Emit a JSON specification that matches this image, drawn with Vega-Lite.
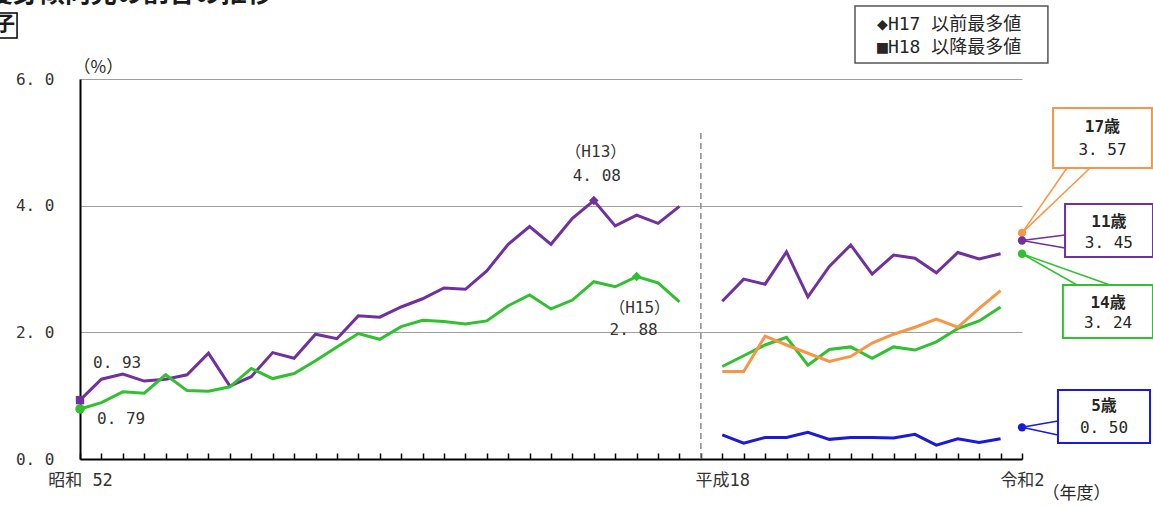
{
  "$schema": "https://vega.github.io/schema/vega-lite/v6.json",
  "width": 942,
  "height": 380,
  "autosize": {"type": "none"},
  "padding": {"left": 80, "top": 79, "right": 131, "bottom": 48},
  "background": "white",
  "config": {
    "view": {"stroke": null},
    "font": "DejaVu Sans Mono, Noto Sans CJK JP",
    "text": {"font": "DejaVu Sans Mono, Noto Sans CJK JP", "color": "#262626"},
    "axis": {"labelFont": "DejaVu Sans Mono, Noto Sans CJK JP"}
  },
  "datasets": {
    "series": [
      {"nendo": "S52", "age": "11歳", "period": "H17以前", "value": 0.93},
      {"nendo": "S53", "age": "11歳", "period": "H17以前", "value": 1.26},
      {"nendo": "S54", "age": "11歳", "period": "H17以前", "value": 1.34},
      {"nendo": "S55", "age": "11歳", "period": "H17以前", "value": 1.23},
      {"nendo": "S56", "age": "11歳", "period": "H17以前", "value": 1.26},
      {"nendo": "S57", "age": "11歳", "period": "H17以前", "value": 1.33},
      {"nendo": "S58", "age": "11歳", "period": "H17以前", "value": 1.67},
      {"nendo": "S59", "age": "11歳", "period": "H17以前", "value": 1.15},
      {"nendo": "S60", "age": "11歳", "period": "H17以前", "value": 1.30},
      {"nendo": "S61", "age": "11歳", "period": "H17以前", "value": 1.68},
      {"nendo": "S62", "age": "11歳", "period": "H17以前", "value": 1.59},
      {"nendo": "S63", "age": "11歳", "period": "H17以前", "value": 1.97},
      {"nendo": "H1", "age": "11歳", "period": "H17以前", "value": 1.90},
      {"nendo": "H2", "age": "11歳", "period": "H17以前", "value": 2.26},
      {"nendo": "H3", "age": "11歳", "period": "H17以前", "value": 2.24},
      {"nendo": "H4", "age": "11歳", "period": "H17以前", "value": 2.40},
      {"nendo": "H5", "age": "11歳", "period": "H17以前", "value": 2.53},
      {"nendo": "H6", "age": "11歳", "period": "H17以前", "value": 2.70},
      {"nendo": "H7", "age": "11歳", "period": "H17以前", "value": 2.68},
      {"nendo": "H8", "age": "11歳", "period": "H17以前", "value": 2.97},
      {"nendo": "H9", "age": "11歳", "period": "H17以前", "value": 3.39},
      {"nendo": "H10", "age": "11歳", "period": "H17以前", "value": 3.67},
      {"nendo": "H11", "age": "11歳", "period": "H17以前", "value": 3.39},
      {"nendo": "H12", "age": "11歳", "period": "H17以前", "value": 3.80},
      {"nendo": "H13", "age": "11歳", "period": "H17以前", "value": 4.08},
      {"nendo": "H14", "age": "11歳", "period": "H17以前", "value": 3.68},
      {"nendo": "H15", "age": "11歳", "period": "H17以前", "value": 3.85},
      {"nendo": "H16", "age": "11歳", "period": "H17以前", "value": 3.72},
      {"nendo": "H17", "age": "11歳", "period": "H17以前", "value": 3.99},
      {"nendo": "S52", "age": "14歳", "period": "H17以前", "value": 0.79},
      {"nendo": "S53", "age": "14歳", "period": "H17以前", "value": 0.89},
      {"nendo": "S54", "age": "14歳", "period": "H17以前", "value": 1.06},
      {"nendo": "S55", "age": "14歳", "period": "H17以前", "value": 1.04},
      {"nendo": "S56", "age": "14歳", "period": "H17以前", "value": 1.33},
      {"nendo": "S57", "age": "14歳", "period": "H17以前", "value": 1.08},
      {"nendo": "S58", "age": "14歳", "period": "H17以前", "value": 1.07},
      {"nendo": "S59", "age": "14歳", "period": "H17以前", "value": 1.14},
      {"nendo": "S60", "age": "14歳", "period": "H17以前", "value": 1.43},
      {"nendo": "S61", "age": "14歳", "period": "H17以前", "value": 1.27},
      {"nendo": "S62", "age": "14歳", "period": "H17以前", "value": 1.35},
      {"nendo": "S63", "age": "14歳", "period": "H17以前", "value": 1.55},
      {"nendo": "H1", "age": "14歳", "period": "H17以前", "value": 1.77},
      {"nendo": "H2", "age": "14歳", "period": "H17以前", "value": 1.98},
      {"nendo": "H3", "age": "14歳", "period": "H17以前", "value": 1.89},
      {"nendo": "H4", "age": "14歳", "period": "H17以前", "value": 2.09},
      {"nendo": "H5", "age": "14歳", "period": "H17以前", "value": 2.19},
      {"nendo": "H6", "age": "14歳", "period": "H17以前", "value": 2.17},
      {"nendo": "H7", "age": "14歳", "period": "H17以前", "value": 2.13},
      {"nendo": "H8", "age": "14歳", "period": "H17以前", "value": 2.18},
      {"nendo": "H9", "age": "14歳", "period": "H17以前", "value": 2.42},
      {"nendo": "H10", "age": "14歳", "period": "H17以前", "value": 2.59},
      {"nendo": "H11", "age": "14歳", "period": "H17以前", "value": 2.37},
      {"nendo": "H12", "age": "14歳", "period": "H17以前", "value": 2.51},
      {"nendo": "H13", "age": "14歳", "period": "H17以前", "value": 2.80},
      {"nendo": "H14", "age": "14歳", "period": "H17以前", "value": 2.72},
      {"nendo": "H15", "age": "14歳", "period": "H17以前", "value": 2.88},
      {"nendo": "H16", "age": "14歳", "period": "H17以前", "value": 2.78},
      {"nendo": "H17", "age": "14歳", "period": "H17以前", "value": 2.48},
      {"nendo": "H18", "age": "5歳", "period": "H18以降", "value": 0.38},
      {"nendo": "H19", "age": "5歳", "period": "H18以降", "value": 0.25},
      {"nendo": "H20", "age": "5歳", "period": "H18以降", "value": 0.34},
      {"nendo": "H21", "age": "5歳", "period": "H18以降", "value": 0.34},
      {"nendo": "H22", "age": "5歳", "period": "H18以降", "value": 0.42},
      {"nendo": "H23", "age": "5歳", "period": "H18以降", "value": 0.31},
      {"nendo": "H24", "age": "5歳", "period": "H18以降", "value": 0.34},
      {"nendo": "H25", "age": "5歳", "period": "H18以降", "value": 0.34},
      {"nendo": "H26", "age": "5歳", "period": "H18以降", "value": 0.33},
      {"nendo": "H27", "age": "5歳", "period": "H18以降", "value": 0.39},
      {"nendo": "H28", "age": "5歳", "period": "H18以降", "value": 0.22},
      {"nendo": "H29", "age": "5歳", "period": "H18以降", "value": 0.32},
      {"nendo": "H30", "age": "5歳", "period": "H18以降", "value": 0.26},
      {"nendo": "R1", "age": "5歳", "period": "H18以降", "value": 0.32},
      {"nendo": "H18", "age": "11歳", "period": "H18以降", "value": 2.49},
      {"nendo": "H19", "age": "11歳", "period": "H18以降", "value": 2.84},
      {"nendo": "H20", "age": "11歳", "period": "H18以降", "value": 2.76},
      {"nendo": "H21", "age": "11歳", "period": "H18以降", "value": 3.27},
      {"nendo": "H22", "age": "11歳", "period": "H18以降", "value": 2.56},
      {"nendo": "H23", "age": "11歳", "period": "H18以降", "value": 3.04},
      {"nendo": "H24", "age": "11歳", "period": "H18以降", "value": 3.38},
      {"nendo": "H25", "age": "11歳", "period": "H18以降", "value": 2.92},
      {"nendo": "H26", "age": "11歳", "period": "H18以降", "value": 3.22},
      {"nendo": "H27", "age": "11歳", "period": "H18以降", "value": 3.17},
      {"nendo": "H28", "age": "11歳", "period": "H18以降", "value": 2.94},
      {"nendo": "H29", "age": "11歳", "period": "H18以降", "value": 3.26},
      {"nendo": "H30", "age": "11歳", "period": "H18以降", "value": 3.16},
      {"nendo": "R1", "age": "11歳", "period": "H18以降", "value": 3.24},
      {"nendo": "H18", "age": "14歳", "period": "H18以降", "value": 1.46},
      {"nendo": "H19", "age": "14歳", "period": "H18以降", "value": 1.63},
      {"nendo": "H20", "age": "14歳", "period": "H18以降", "value": 1.80},
      {"nendo": "H21", "age": "14歳", "period": "H18以降", "value": 1.92},
      {"nendo": "H22", "age": "14歳", "period": "H18以降", "value": 1.48},
      {"nendo": "H23", "age": "14歳", "period": "H18以降", "value": 1.73},
      {"nendo": "H24", "age": "14歳", "period": "H18以降", "value": 1.77},
      {"nendo": "H25", "age": "14歳", "period": "H18以降", "value": 1.59},
      {"nendo": "H26", "age": "14歳", "period": "H18以降", "value": 1.77},
      {"nendo": "H27", "age": "14歳", "period": "H18以降", "value": 1.72},
      {"nendo": "H28", "age": "14歳", "period": "H18以降", "value": 1.85},
      {"nendo": "H29", "age": "14歳", "period": "H18以降", "value": 2.06},
      {"nendo": "H30", "age": "14歳", "period": "H18以降", "value": 2.18},
      {"nendo": "R1", "age": "14歳", "period": "H18以降", "value": 2.40},
      {"nendo": "H18", "age": "17歳", "period": "H18以降", "value": 1.38},
      {"nendo": "H19", "age": "17歳", "period": "H18以降", "value": 1.38},
      {"nendo": "H20", "age": "17歳", "period": "H18以降", "value": 1.94},
      {"nendo": "H21", "age": "17歳", "period": "H18以降", "value": 1.80},
      {"nendo": "H22", "age": "17歳", "period": "H18以降", "value": 1.67},
      {"nendo": "H23", "age": "17歳", "period": "H18以降", "value": 1.54},
      {"nendo": "H24", "age": "17歳", "period": "H18以降", "value": 1.62},
      {"nendo": "H25", "age": "17歳", "period": "H18以降", "value": 1.83},
      {"nendo": "H26", "age": "17歳", "period": "H18以降", "value": 1.97},
      {"nendo": "H27", "age": "17歳", "period": "H18以降", "value": 2.08},
      {"nendo": "H28", "age": "17歳", "period": "H18以降", "value": 2.21},
      {"nendo": "H29", "age": "17歳", "period": "H18以降", "value": 2.08},
      {"nendo": "H30", "age": "17歳", "period": "H18以降", "value": 2.38},
      {"nendo": "R1", "age": "17歳", "period": "H18以降", "value": 2.66}
    ],
    "r2": [
      {"nendo": "R2", "age": "17歳", "value": 3.57},
      {"nendo": "R2", "age": "11歳", "value": 3.45},
      {"nendo": "R2", "age": "14歳", "value": 3.24},
      {"nendo": "R2", "age": "5歳", "value": 0.50}
    ]
  },
  "resolve": {"scale": {"x": "independent", "y": "independent"}},
  "layer": [
    {
      "data": {"name": "series"},
      "encoding": {
        "x": {
          "field": "nendo",
          "type": "ordinal",
          "scale": {
            "type": "point",
            "padding": 0,
            "domain": ["S52", "S53", "S54", "S55", "S56", "S57", "S58", "S59", "S60", "S61", "S62", "S63", "H1", "H2", "H3", "H4", "H5", "H6", "H7", "H8", "H9", "H10", "H11", "H12", "H13", "H14", "H15", "H16", "H17", " ", "H18", "H19", "H20", "H21", "H22", "H23", "H24", "H25", "H26", "H27", "H28", "H29", "H30", "R1", "R2"]
          },
          "axis": {
            "title": null,
            "grid": false,
            "domainColor": "#000000",
            "domainWidth": 2,
            "tickColor": "#000000",
            "tickWidth": 1.5,
            "tickSize": -6,
            "labelAngle": 0,
            "labelFontSize": 17,
            "labelColor": "#333333",
            "labelPadding": 19,
            "labelOverlap": false,
            "labelExpr": "datum.value == 'S52' ? '昭和 52' : datum.value == 'H18' ? '平成18' : datum.value == 'R2' ? '令和2' : ''"
          }
        },
        "y": {
          "field": "value",
          "type": "quantitative",
          "scale": {"domain": [0, 6], "nice": false, "zero": false},
          "axis": {
            "title": null,
            "orient": "left",
            "values": [0, 2, 4, 6],
            "grid": true,
            "gridColor": "#a0a0a0",
            "gridWidth": 1,
            "domain": true,
            "domainColor": "#000000",
            "domainWidth": 2,
            "ticks": false,
            "labelFontSize": 16,
            "labelColor": "#333333",
            "labelPadding": 26,
            "labelExpr": "replace(format(datum.value, '.1f'), '.', '. ')"
          }
        },
        "color": {
          "field": "age",
          "type": "nominal",
          "scale": {"domain": ["5歳", "11歳", "14歳", "17歳"], "range": ["#1a1ad8", "#7030a0", "#30c030", "#f79646"]},
          "legend": null
        }
      },
      "layer": [
        {
          "mark": {"type": "line", "strokeWidth": 3},
          "encoding": {"detail": {"field": "period"}, "order": {"value": null}}
        },
        {
          "transform": [{"filter": "datum.nendo == 'S52' && datum.age == '11歳'"}],
          "mark": {"type": "point", "shape": "square", "filled": true, "opacity": 1, "size": 70}
        },
        {
          "transform": [{"filter": "datum.nendo == 'S52' && datum.age == '14歳'"}],
          "mark": {"type": "circle", "opacity": 1, "size": 90}
        },
        {
          "transform": [{"filter": "(datum.nendo == 'H13' && datum.age == '11歳') || (datum.nendo == 'H15' && datum.age == '14歳')"}],
          "mark": {"type": "point", "shape": "diamond", "filled": true, "opacity": 1, "size": 90}
        },
        {
          "transform": [
            {"filter": "datum.nendo == 'S52' && datum.age == '11歳'"},
            {"calculate": "replace(format(datum.value, '.2f'), '.', '. ')", "as": "label"}
          ],
          "mark": {"type": "text", "align": "left", "baseline": "middle", "dx": 13, "dy": -37, "fontSize": 16},
          "encoding": {"text": {"field": "label"}, "color": {"value": "#333333"}}
        },
        {
          "transform": [
            {"filter": "datum.nendo == 'S52' && datum.age == '14歳'"},
            {"calculate": "replace(format(datum.value, '.2f'), '.', '. ')", "as": "label"}
          ],
          "mark": {"type": "text", "align": "left", "baseline": "middle", "dx": 17, "dy": 10, "fontSize": 16},
          "encoding": {"text": {"field": "label"}, "color": {"value": "#333333"}}
        },
        {
          "transform": [{"filter": "datum.nendo == 'H13' && datum.age == '11歳'"}],
          "mark": {"type": "text", "align": "center", "baseline": "middle", "dx": 2, "dy": -49, "fontSize": 16},
          "encoding": {"text": {"value": "（H13）"}, "color": {"value": "#333333"}}
        },
        {
          "transform": [
            {"filter": "datum.nendo == 'H13' && datum.age == '11歳'"},
            {"calculate": "replace(format(datum.value, '.2f'), '.', '. ')", "as": "label"}
          ],
          "mark": {"type": "text", "align": "center", "baseline": "middle", "dx": 3, "dy": -25, "fontSize": 16},
          "encoding": {"text": {"field": "label"}, "color": {"value": "#333333"}}
        },
        {
          "transform": [{"filter": "datum.nendo == 'H15' && datum.age == '14歳'"}],
          "mark": {"type": "text", "align": "center", "baseline": "middle", "dx": 3, "dy": 31, "fontSize": 16},
          "encoding": {"text": {"value": "（H15）"}, "color": {"value": "#333333"}}
        },
        {
          "transform": [
            {"filter": "datum.nendo == 'H15' && datum.age == '14歳'"},
            {"calculate": "replace(format(datum.value, '.2f'), '.', '. ')", "as": "label"}
          ],
          "mark": {"type": "text", "align": "center", "baseline": "middle", "dx": -3, "dy": 53, "fontSize": 16},
          "encoding": {"text": {"field": "label"}, "color": {"value": "#333333"}}
        }
      ]
    },
    {
      "data": {"values": [{}]},
      "layer": [
        {
          "mark": {"type": "rule", "strokeDash": [6, 4], "strokeWidth": 1.5, "color": "#8c8c8c"},
          "encoding": {
            "x": {"datum": 29, "type": "quantitative", "scale": {"domain": [0, 44], "nice": false, "zero": false}, "axis": null},
            "x2": {"datum": 29},
            "y": {"datum": 0, "type": "quantitative", "scale": {"domain": [0, 6], "nice": false, "zero": false}, "axis": null},
            "y2": {"datum": 5.195}
          }
        },
        {
          "mark": {"type": "text", "align": "left", "baseline": "alphabetic", "fontSize": 26, "fontWeight": "bold", "font": "Noto Sans CJK JP", "color": "#1a1a1a"},
          "encoding": {
            "x": {"datum": -4.35, "type": "quantitative", "scale": {"domain": [0, 44], "nice": false, "zero": false}, "axis": null},
            "y": {"datum": 7.22, "type": "quantitative", "scale": {"domain": [0, 6], "nice": false, "zero": false}, "axis": null},
            "text": {"value": "痩身傾向児の割合の推移"}
          }
        },
        {
          "mark": {"type": "rect", "fill": null, "stroke": "#000000", "strokeWidth": 1.5},
          "encoding": {
            "x": {"datum": -5.28, "type": "quantitative", "scale": {"domain": [0, 44], "nice": false, "zero": false}, "axis": null},
            "x2": {"datum": -2.94},
            "y": {"datum": 7.042, "type": "quantitative", "scale": {"domain": [0, 6], "nice": false, "zero": false}, "axis": null},
            "y2": {"datum": 6.647}
          }
        },
        {
          "mark": {"type": "text", "align": "right", "baseline": "middle", "fontSize": 20, "fontWeight": "bold", "font": "Noto Sans CJK JP", "color": "#1a1a1a"},
          "encoding": {
            "x": {"datum": -3.04, "type": "quantitative", "scale": {"domain": [0, 44], "nice": false, "zero": false}, "axis": null},
            "y": {"datum": 6.853, "type": "quantitative", "scale": {"domain": [0, 6], "nice": false, "zero": false}, "axis": null},
            "text": {"value": "男子"}
          }
        },
        {
          "mark": {"type": "text", "align": "left", "baseline": "middle", "fontSize": 17, "font": "Noto Sans CJK JP"},
          "encoding": {
            "x": {"datum": -0.3, "type": "quantitative", "scale": {"domain": [0, 44], "nice": false, "zero": false}, "axis": null},
            "y": {"datum": 6.174, "type": "quantitative", "scale": {"domain": [0, 6], "nice": false, "zero": false}, "axis": null},
            "text": {"value": "（%）"}
          }
        },
        {
          "mark": {"type": "text", "align": "center", "baseline": "middle", "fontSize": 17, "font": "Noto Sans CJK JP"},
          "encoding": {
            "x": {"datum": 46.55, "type": "quantitative", "scale": {"domain": [0, 44], "nice": false, "zero": false}, "axis": null},
            "y": {"datum": -0.56, "type": "quantitative", "scale": {"domain": [0, 6], "nice": false, "zero": false}, "axis": null},
            "text": {"value": "（年度）"}
          }
        },
        {
          "mark": {"type": "rect", "fill": "#ffffff", "stroke": "#555555", "strokeWidth": 1.5},
          "encoding": {
            "x": {"datum": 36.2, "type": "quantitative", "scale": {"domain": [0, 44], "nice": false, "zero": false}, "axis": null},
            "x2": {"datum": 45.21},
            "y": {"datum": 7.153, "type": "quantitative", "scale": {"domain": [0, 6], "nice": false, "zero": false}, "axis": null},
            "y2": {"datum": 6.253}
          }
        },
        {
          "mark": {"type": "text", "align": "left", "baseline": "middle", "fontSize": 18},
          "encoding": {
            "x": {"datum": 37.23, "type": "quantitative", "scale": {"domain": [0, 44], "nice": false, "zero": false}, "axis": null},
            "y": {"datum": 6.853, "type": "quantitative", "scale": {"domain": [0, 6], "nice": false, "zero": false}, "axis": null},
            "text": {"value": "◆H17 以前最多値"}
          }
        },
        {
          "mark": {"type": "text", "align": "left", "baseline": "middle", "fontSize": 18},
          "encoding": {
            "x": {"datum": 37.23, "type": "quantitative", "scale": {"domain": [0, 44], "nice": false, "zero": false}, "axis": null},
            "y": {"datum": 6.489, "type": "quantitative", "scale": {"domain": [0, 6], "nice": false, "zero": false}, "axis": null},
            "text": {"value": "■H18 以降最多値"}
          }
        },
        {
          "data": {"name": "r2"},
          "transform": [
            {"filter": "datum.age == '17歳'"},
            {"calculate": "replace(format(datum.value, '.2f'), '.', '. ')", "as": "label"}
          ],
          "layer": [
            {
              "mark": {"type": "rule", "color": "#f79646", "strokeWidth": 1.5},
              "encoding": {
                "x": {"datum": 44, "type": "quantitative", "scale": {"domain": [0, 44], "nice": false, "zero": false}, "axis": null},
                "y": {"field": "value", "type": "quantitative", "scale": {"domain": [0, 6], "nice": false, "zero": false}, "axis": null},
                "x2": {"datum": 46.1},
                "y2": {"datum": 4.595}
              }
            },
            {
              "mark": {"type": "rule", "color": "#f79646", "strokeWidth": 1.5},
              "encoding": {
                "x": {"datum": 44, "type": "quantitative", "scale": {"domain": [0, 44], "nice": false, "zero": false}, "axis": null},
                "y": {"field": "value", "type": "quantitative", "scale": {"domain": [0, 6], "nice": false, "zero": false}, "axis": null},
                "x2": {"datum": 47.18},
                "y2": {"datum": 4.595}
              }
            },
            {
              "mark": {"type": "rect", "fill": "#ffffff", "stroke": "#f79646", "strokeWidth": 2},
              "encoding": {
                "x": {"datum": 45.45, "type": "quantitative", "scale": {"domain": [0, 44], "nice": false, "zero": false}, "axis": null},
                "x2": {"datum": 50.07},
                "y": {"datum": 5.542, "type": "quantitative", "scale": {"domain": [0, 6], "nice": false, "zero": false}, "axis": null},
                "y2": {"datum": 4.595}
              }
            },
            {
              "mark": {"type": "text", "align": "center", "baseline": "middle", "fontSize": 16, "fontWeight": "bold"},
              "encoding": {
                "x": {"datum": 47.76, "type": "quantitative", "scale": {"domain": [0, 44], "nice": false, "zero": false}, "axis": null},
                "y": {"datum": 5.242, "type": "quantitative", "scale": {"domain": [0, 6], "nice": false, "zero": false}, "axis": null},
                "text": {"field": "age"}
              }
            },
            {
              "mark": {"type": "text", "align": "center", "baseline": "middle", "fontSize": 16},
              "encoding": {
                "x": {"datum": 47.76, "type": "quantitative", "scale": {"domain": [0, 44], "nice": false, "zero": false}, "axis": null},
                "y": {"datum": 4.879, "type": "quantitative", "scale": {"domain": [0, 6], "nice": false, "zero": false}, "axis": null},
                "text": {"field": "label"}
              }
            }
          ]
        },
        {
          "data": {"name": "r2"},
          "transform": [
            {"filter": "datum.age == '11歳'"},
            {"calculate": "replace(format(datum.value, '.2f'), '.', '. ')", "as": "label"}
          ],
          "layer": [
            {
              "mark": {"type": "rule", "color": "#7030a0", "strokeWidth": 1.5},
              "encoding": {
                "x": {"datum": 44, "type": "quantitative", "scale": {"domain": [0, 44], "nice": false, "zero": false}, "axis": null},
                "y": {"field": "value", "type": "quantitative", "scale": {"domain": [0, 6], "nice": false, "zero": false}, "axis": null},
                "x2": {"datum": 46.01},
                "y2": {"datum": 3.537}
              }
            },
            {
              "mark": {"type": "rule", "color": "#7030a0", "strokeWidth": 1.5},
              "encoding": {
                "x": {"datum": 44, "type": "quantitative", "scale": {"domain": [0, 44], "nice": false, "zero": false}, "axis": null},
                "y": {"field": "value", "type": "quantitative", "scale": {"domain": [0, 6], "nice": false, "zero": false}, "axis": null},
                "x2": {"datum": 46.01},
                "y2": {"datum": 3.332}
              }
            },
            {
              "mark": {"type": "rect", "fill": "#ffffff", "stroke": "#7030a0", "strokeWidth": 2},
              "encoding": {
                "x": {"datum": 46.01, "type": "quantitative", "scale": {"domain": [0, 44], "nice": false, "zero": false}, "axis": null},
                "x2": {"datum": 50.12},
                "y": {"datum": 4.026, "type": "quantitative", "scale": {"domain": [0, 6], "nice": false, "zero": false}, "axis": null},
                "y2": {"datum": 3.189}
              }
            },
            {
              "mark": {"type": "text", "align": "center", "baseline": "middle", "fontSize": 16, "fontWeight": "bold"},
              "encoding": {
                "x": {"datum": 48.06, "type": "quantitative", "scale": {"domain": [0, 44], "nice": false, "zero": false}, "axis": null},
                "y": {"datum": 3.742, "type": "quantitative", "scale": {"domain": [0, 6], "nice": false, "zero": false}, "axis": null},
                "text": {"field": "age"}
              }
            },
            {
              "mark": {"type": "text", "align": "center", "baseline": "middle", "fontSize": 16},
              "encoding": {
                "x": {"datum": 48.06, "type": "quantitative", "scale": {"domain": [0, 44], "nice": false, "zero": false}, "axis": null},
                "y": {"datum": 3.411, "type": "quantitative", "scale": {"domain": [0, 6], "nice": false, "zero": false}, "axis": null},
                "text": {"field": "label"}
              }
            }
          ]
        },
        {
          "data": {"name": "r2"},
          "transform": [
            {"filter": "datum.age == '14歳'"},
            {"calculate": "replace(format(datum.value, '.2f'), '.', '. ')", "as": "label"}
          ],
          "layer": [
            {
              "mark": {"type": "rule", "color": "#30c030", "strokeWidth": 1.5},
              "encoding": {
                "x": {"datum": 44, "type": "quantitative", "scale": {"domain": [0, 44], "nice": false, "zero": false}, "axis": null},
                "y": {"field": "value", "type": "quantitative", "scale": {"domain": [0, 6], "nice": false, "zero": false}, "axis": null},
                "x2": {"datum": 46.57},
                "y2": {"datum": 2.747}
              }
            },
            {
              "mark": {"type": "rule", "color": "#30c030", "strokeWidth": 1.5},
              "encoding": {
                "x": {"datum": 44, "type": "quantitative", "scale": {"domain": [0, 44], "nice": false, "zero": false}, "axis": null},
                "y": {"field": "value", "type": "quantitative", "scale": {"domain": [0, 6], "nice": false, "zero": false}, "axis": null},
                "x2": {"datum": 48.11},
                "y2": {"datum": 2.747}
              }
            },
            {
              "mark": {"type": "rect", "fill": "#ffffff", "stroke": "#30c030", "strokeWidth": 2},
              "encoding": {
                "x": {"datum": 45.91, "type": "quantitative", "scale": {"domain": [0, 44], "nice": false, "zero": false}, "axis": null},
                "x2": {"datum": 50.12},
                "y": {"datum": 2.747, "type": "quantitative", "scale": {"domain": [0, 6], "nice": false, "zero": false}, "axis": null},
                "y2": {"datum": 1.911}
              }
            },
            {
              "mark": {"type": "text", "align": "center", "baseline": "middle", "fontSize": 16, "fontWeight": "bold"},
              "encoding": {
                "x": {"datum": 48.02, "type": "quantitative", "scale": {"domain": [0, 44], "nice": false, "zero": false}, "axis": null},
                "y": {"datum": 2.463, "type": "quantitative", "scale": {"domain": [0, 6], "nice": false, "zero": false}, "axis": null},
                "text": {"field": "age"}
              }
            },
            {
              "mark": {"type": "text", "align": "center", "baseline": "middle", "fontSize": 16},
              "encoding": {
                "x": {"datum": 48.02, "type": "quantitative", "scale": {"domain": [0, 44], "nice": false, "zero": false}, "axis": null},
                "y": {"datum": 2.147, "type": "quantitative", "scale": {"domain": [0, 6], "nice": false, "zero": false}, "axis": null},
                "text": {"field": "label"}
              }
            }
          ]
        },
        {
          "data": {"name": "r2"},
          "transform": [
            {"filter": "datum.age == '5歳'"},
            {"calculate": "replace(format(datum.value, '.2f'), '.', '. ')", "as": "label"}
          ],
          "layer": [
            {
              "mark": {"type": "rule", "color": "#1a1ad8", "strokeWidth": 1.5},
              "encoding": {
                "x": {"datum": 44, "type": "quantitative", "scale": {"domain": [0, 44], "nice": false, "zero": false}, "axis": null},
                "y": {"field": "value", "type": "quantitative", "scale": {"domain": [0, 6], "nice": false, "zero": false}, "axis": null},
                "x2": {"datum": 45.68},
                "y2": {"datum": 0.6}
              }
            },
            {
              "mark": {"type": "rule", "color": "#1a1ad8", "strokeWidth": 1.5},
              "encoding": {
                "x": {"datum": 44, "type": "quantitative", "scale": {"domain": [0, 44], "nice": false, "zero": false}, "axis": null},
                "y": {"field": "value", "type": "quantitative", "scale": {"domain": [0, 6], "nice": false, "zero": false}, "axis": null},
                "x2": {"datum": 45.68},
                "y2": {"datum": 0.379}
              }
            },
            {
              "mark": {"type": "rect", "fill": "#ffffff", "stroke": "#1a1ad8", "strokeWidth": 2},
              "encoding": {
                "x": {"datum": 45.68, "type": "quantitative", "scale": {"domain": [0, 44], "nice": false, "zero": false}, "axis": null},
                "x2": {"datum": 49.98},
                "y": {"datum": 1.089, "type": "quantitative", "scale": {"domain": [0, 6], "nice": false, "zero": false}, "axis": null},
                "y2": {"datum": 0.253}
              }
            },
            {
              "mark": {"type": "text", "align": "center", "baseline": "middle", "fontSize": 16, "fontWeight": "bold"},
              "encoding": {
                "x": {"datum": 47.83, "type": "quantitative", "scale": {"domain": [0, 44], "nice": false, "zero": false}, "axis": null},
                "y": {"datum": 0.837, "type": "quantitative", "scale": {"domain": [0, 6], "nice": false, "zero": false}, "axis": null},
                "text": {"field": "age"}
              }
            },
            {
              "mark": {"type": "text", "align": "center", "baseline": "middle", "fontSize": 16},
              "encoding": {
                "x": {"datum": 47.83, "type": "quantitative", "scale": {"domain": [0, 44], "nice": false, "zero": false}, "axis": null},
                "y": {"datum": 0.489, "type": "quantitative", "scale": {"domain": [0, 6], "nice": false, "zero": false}, "axis": null},
                "text": {"field": "label"}
              }
            }
          ]
        },
        {
          "data": {"name": "r2"},
          "mark": {"type": "circle", "opacity": 1, "size": 70},
          "encoding": {
            "x": {"datum": 44, "type": "quantitative", "scale": {"domain": [0, 44], "nice": false, "zero": false}, "axis": null},
            "y": {"field": "value", "type": "quantitative", "scale": {"domain": [0, 6], "nice": false, "zero": false}, "axis": null},
            "color": {"field": "age", "type": "nominal", "scale": {"domain": ["5歳", "11歳", "14歳", "17歳"], "range": ["#1a1ad8", "#7030a0", "#30c030", "#f79646"]}, "legend": null}
          }
        }
      ]
    }
  ]
}
